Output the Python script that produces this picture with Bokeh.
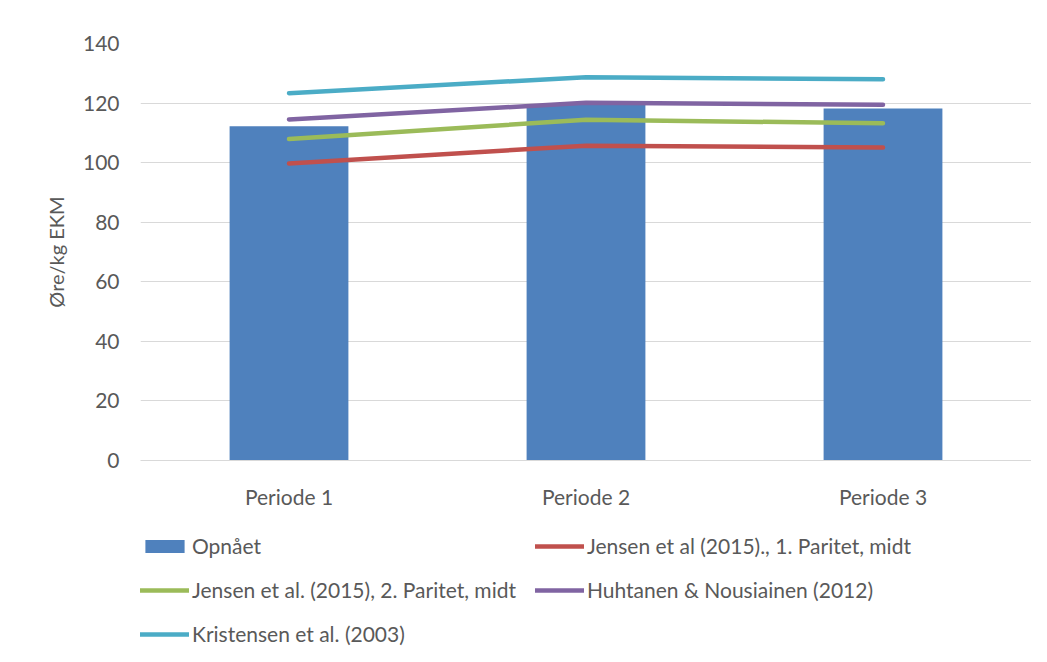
from bokeh.plotting import figure
from bokeh.models import FactorRange, Range1d, Legend, LegendItem, FixedTicker
from bokeh.layouts import column
from bokeh.embed import file_html
from bokeh.resources import INLINE

periods = ["Periode 1", "Periode 2", "Periode 3"]
opnaaet = [112.2, 119.6, 118.2]
jensen1 = [99.7, 105.7, 105.1]
jensen2 = [107.9, 114.4, 113.2]
huhtanen = [114.5, 120.1, 119.4]
kristensen = [123.3, 128.7, 128.0]

series_names = ["Opnået", "Jensen et al (2015)., 1. Paritet, midt",
                "Jensen et al. (2015), 2. Paritet, midt",
                "Huhtanen & Nousiainen (2012)", "Kristensen et al. (2003)"]
bar_color = "#4F81BD"
line_colors = ["#C0504D", "#9BBB59", "#8064A2", "#4BACC6"]

FONT = "Lato"
TXT = "#595959"


def draw_series(fig):
    rs = [fig.vbar(x=periods, top=opnaaet, width=0.4, color=bar_color, line_color=None)]
    for vals, col in zip([jensen1, jensen2, huhtanen, kristensen], line_colors):
        rs.append(fig.line(x=periods, y=vals, line_color=col, line_width=4.5,
                           line_cap="round", line_join="round"))
    return rs


p = figure(x_range=FactorRange(*periods, range_padding=0), y_range=Range1d(0, 140),
           frame_width=891, frame_height=417, output_backend="svg", toolbar_location=None,
           min_border_left=140, min_border_right=0, min_border_top=43, min_border_bottom=60)
draw_series(p)

p.outline_line_color = None
p.xgrid.grid_line_color = None
p.ygrid.grid_line_color = "#d9d9d9"
p.ygrid.grid_line_width = 1

p.yaxis.ticker = FixedTicker(ticks=[0, 20, 40, 60, 80, 100, 120, 140])
p.yaxis.axis_line_color = None
p.yaxis.major_tick_line_color = None
p.yaxis.minor_tick_line_color = None
p.yaxis.major_label_text_font = FONT
p.yaxis.major_label_text_font_size = "21px"
p.yaxis.major_label_text_color = TXT
p.yaxis.major_label_standoff = 15
p.yaxis.axis_label = "Øre/kg EKM"
p.yaxis.axis_label_text_font = FONT
p.yaxis.axis_label_text_font_size = "20px"
p.yaxis.axis_label_text_font_style = "normal"
p.yaxis.axis_label_text_color = TXT
p.yaxis.axis_label_standoff = 12

p.xaxis.axis_line_color = "#d9d9d9"
p.xaxis.axis_line_width = 1
p.xaxis.major_tick_line_color = None
p.xaxis.minor_tick_line_color = None
p.xaxis.major_label_text_font = FONT
p.xaxis.major_label_text_font_size = "21px"
p.xaxis.major_label_text_color = TXT
p.xaxis.major_label_standoff = 17

# legend panel: a second figure below the chart; its series renderers are hidden,
# only their legend entries are shown
lg = figure(width=1031, height=134, x_range=FactorRange(*periods), y_range=Range1d(-2, -1),
            output_backend="svg", toolbar_location=None,
            x_axis_location=None, y_axis_location=None,
            min_border_left=0, min_border_right=0, min_border_top=0, min_border_bottom=0)
lg.outline_line_color = None
lg.grid.visible = False
renderers = draw_series(lg)
for r in renderers:
    r.visible = False

order = [0, 2, 4, 1, 3]
items = [LegendItem(label=series_names[i], renderers=[renderers[i]]) for i in order]

legend = Legend(items=items, location=(0, 8), orientation="vertical", nrows=3,
                glyph_width=49, glyph_height=16, label_height=20, spacing=19,
                label_standoff=3, padding=0, margin=0,
                border_line_color=None, background_fill_alpha=0,
                inactive_fill_alpha=0,
                label_text_font=FONT, label_text_font_size="21px", label_text_color=TXT)
lg.add_layout(legend, "center")

open("out.html", "w").write(file_html(column(p, lg, spacing=0), INLINE))
